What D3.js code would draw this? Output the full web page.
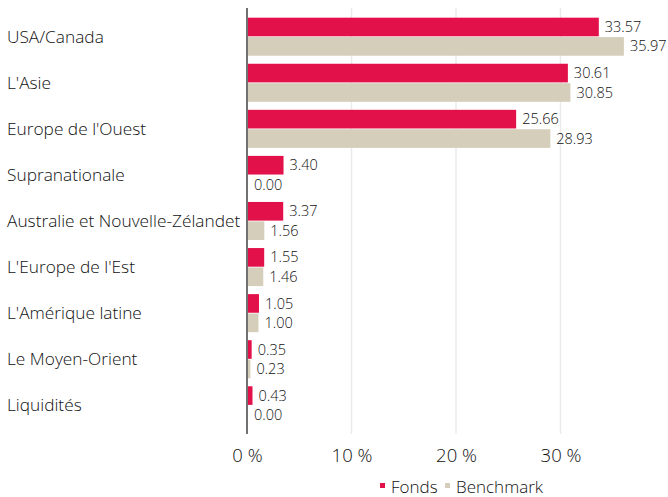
<!DOCTYPE html>
<html>
<head>
<meta charset="utf-8">
<script src="https://cdn.jsdelivr.net/npm/d3@7"></script>
<style>
  body { margin: 0; background: #fff; }
  text { font-family: "Open Sans", "Noto Sans", sans-serif; font-weight: 300; fill: #111; }
</style>
</head>
<body>
<div id="chart"></div>
<script>
const categories = ["USA/Canada", "L'Asie", "Europe de l'Ouest", "Supranationale",
  "Australie et Nouvelle-Zélandet", "L'Europe de l'Est", "L'Amérique latine",
  "Le Moyen-Orient", "Liquidités"];
const seriesNames = ["Fonds", "Benchmark"];
const fonds = [33.57, 30.61, 25.66, 3.40, 3.37, 1.55, 1.05, 0.35, 0.43];
const benchmark = [35.97, 30.85, 28.93, 0.00, 1.56, 1.46, 1.00, 0.23, 0.00];
const xTicks = [0, 10, 20, 30];
const colors = ["#e3114a", "#d5cebb"];

const width = 668, height = 497;
const margin = { top: 8, right: 20, bottom: 63, left: 247 };
const innerH = height - margin.top - margin.bottom;

const svg = d3.select("#chart").append("svg")
  .attr("width", width)
  .attr("height", height);

const g = svg.append("g").attr("transform", `translate(${margin.left},${margin.top})`);

const x = d3.scaleLinear().domain([0, 10]).range([0, 104.5]);
const y = d3.scaleBand().domain(categories).range([0, innerH]).paddingInner(0.174).paddingOuter(0.21);
const ySub = d3.scaleBand().domain(seriesNames).range([0, y.bandwidth()]).paddingInner(0.04);

// grille
g.selectAll(".grid")
  .data(xTicks.slice(1))
  .enter().append("line")
  .attr("x1", d => x(d)).attr("x2", d => x(d))
  .attr("y1", 0).attr("y2", innerH)
  .attr("stroke", "#ebebeb").attr("stroke-width", 1.5);

const rows = categories.map((c, i) => ({ cat: c, vals: [fonds[i], benchmark[i]] }));

const grp = g.selectAll(".grp")
  .data(rows)
  .enter().append("g")
  .attr("transform", d => `translate(0,${y(d.cat)})`);

grp.selectAll("rect")
  .data(d => d.vals.map((v, j) => ({ s: seriesNames[j], v: v, j: j })))
  .enter().append("rect")
  .attr("x", 1)
  .attr("y", d => ySub(d.s))
  .attr("width", d => x(d.v))
  .attr("height", ySub.bandwidth())
  .attr("fill", d => colors[d.j]);

grp.selectAll(".val")
  .data(d => d.vals.map((v, j) => ({ s: seriesNames[j], v: v, j: j })))
  .enter().append("text")
  .attr("x", d => x(d.v) + 7)
  .attr("y", d => ySub(d.s) + ySub.bandwidth() / 2)
  .attr("dy", "0.35em")
  .style("font-size", "14.5px")
  .text(d => d.v.toFixed(2));

// étiquettes catégories
g.selectAll(".cat")
  .data(categories)
  .enter().append("text")
  .attr("x", 7 - margin.left)
  .attr("y", d => y(d) + y.bandwidth() / 2)
  .attr("dy", "0.35em")
  .style("font-size", "17.3px")
  .text(d => d);

// axe vertical
g.append("line")
  .attr("x1", 0).attr("x2", 0)
  .attr("y1", 0).attr("y2", innerH)
  .attr("stroke", "#111").attr("stroke-width", 1.2);

// axe X
const xAxis = g.append("g")
  .attr("transform", `translate(0,${innerH})`)
  .call(d3.axisBottom(x).tickValues(xTicks).tickSize(0).tickPadding(15).tickFormat(d => d + " %"));
xAxis.select(".domain").remove();
xAxis.selectAll("text")
  .style("font-size", "18.5px")
  .style("font-family", '"Open Sans", sans-serif')
  .style("font-weight", 300)
  .attr("fill", "#111");

// légende
const legend = svg.append("g").attr("transform", "translate(380,487)");
const legX = [0, 65];
seriesNames.forEach((s, i) => {
  legend.append("rect")
    .attr("x", legX[i]).attr("y", -4)
    .attr("width", 5).attr("height", 5)
    .attr("fill", colors[i]);
  legend.append("text")
    .attr("x", legX[i] + 11).attr("y", 0)
    .attr("dy", "0.35em")
    .style("font-size", "17px")
    .text(s);
});
</script>
</body>
</html>
